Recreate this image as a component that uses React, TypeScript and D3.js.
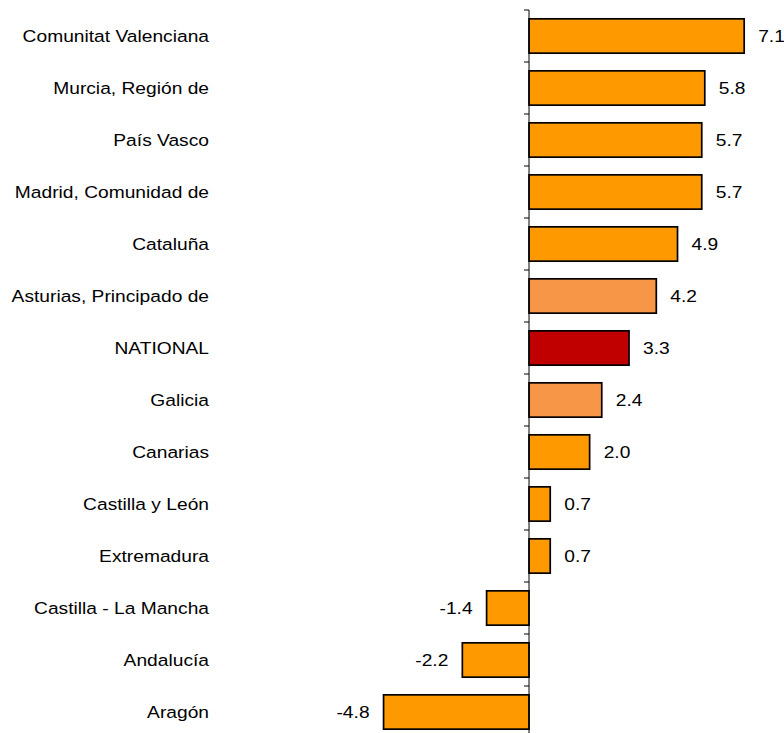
import { useEffect, useRef } from 'react'
import * as d3 from 'd3'

const regions = [
  'Comunitat Valenciana',
  'Murcia, Región de',
  'País Vasco',
  'Madrid, Comunidad de',
  'Cataluña',
  'Asturias, Principado de',
  'NATIONAL',
  'Galicia',
  'Canarias',
  'Castilla y León',
  'Extremadura',
  'Castilla - La Mancha',
  'Andalucía',
  'Aragón',
]

const values = [7.1, 5.8, 5.7, 5.7, 4.9, 4.2, 3.3, 2.4, 2.0, 0.7, 0.7, -1.4, -2.2, -4.8]

// regions drawn in a lighter orange
const highlighted = ['Asturias, Principado de', 'Galicia']
const national = 'NATIONAL'

const width = 784
const height = 733

export default function App() {
  const svgRef = useRef<SVGSVGElement>(null)

  useEffect(() => {
    if (!svgRef.current) return
    const svg = d3.select(svgRef.current)
    svg.selectAll('*').remove()

    const font = '"Liberation Sans", Arial, sans-serif'
    const stretch = 'scale(1.13, 1)'

    // scales
    const x = d3.scaleLinear().domain([-5, 7.5]).range([377.5, 756.3])
    const y = d3.scaleBand<string>().domain(regions).range([10, 738]).paddingInner(0.34).paddingOuter(0.17)

    const data = regions.map((name, i) => ({ name, value: values[i] }))

    const fillFor = (name: string) =>
      name === national ? '#C00000' : highlighted.includes(name) ? '#F79646' : '#FF9900'

    // bars
    svg.append('g')
      .selectAll('rect')
      .data(data)
      .join('rect')
      .attr('x', d => x(Math.min(0, d.value)))
      .attr('y', d => y(d.name)!)
      .attr('width', d => Math.abs(x(d.value) - x(0)))
      .attr('height', y.bandwidth())
      .attr('fill', d => fillFor(d.name))
      .attr('stroke', '#000')
      .attr('stroke-width', 1.7)

    // vertical axis with ticks between categories
    const axis = svg.append('g')
    axis.append('line')
      .attr('x1', x(0)).attr('x2', x(0))
      .attr('y1', 10).attr('y2', height)
      .attr('stroke', '#000')
      .attr('stroke-width', 1)
    const step = y.step()
    d3.range(regions.length + 1).forEach(i => {
      axis.append('line')
        .attr('x1', x(0) - 5).attr('x2', x(0))
        .attr('y1', 10 + i * step).attr('y2', 10 + i * step)
        .attr('stroke', '#000')
        .attr('stroke-width', 1)
    })

    // category labels
    svg.append('g')
      .selectAll('text')
      .data(data)
      .join('text')
      .attr('transform', d => `translate(209, ${y(d.name)! + y.bandwidth() / 2}) ${stretch}`)
      .attr('text-anchor', 'end')
      .attr('dy', '0.35em')
      .attr('font-family', font)
      .attr('font-size', 17)
      .attr('fill', '#000')
      .text(d => d.name)

    // value labels (plain hyphen for negatives)
    svg.append('g')
      .selectAll('text')
      .data(data)
      .join('text')
      .attr('transform', d => {
        const px = d.value >= 0 ? x(d.value) + 14 : x(d.value) - 14
        return `translate(${px}, ${y(d.name)! + y.bandwidth() / 2}) ${stretch}`
      })
      .attr('text-anchor', d => (d.value >= 0 ? 'start' : 'end'))
      .attr('dy', '0.35em')
      .attr('font-family', font)
      .attr('font-size', 17)
      .attr('fill', '#000')
      .text(d => d.value.toFixed(1))
  }, [])

  return (
    <svg
      ref={svgRef}
      width={width}
      height={height}
      style={{ position: 'absolute', left: 0, top: 0, background: '#fff' }}
    />
  )
}
